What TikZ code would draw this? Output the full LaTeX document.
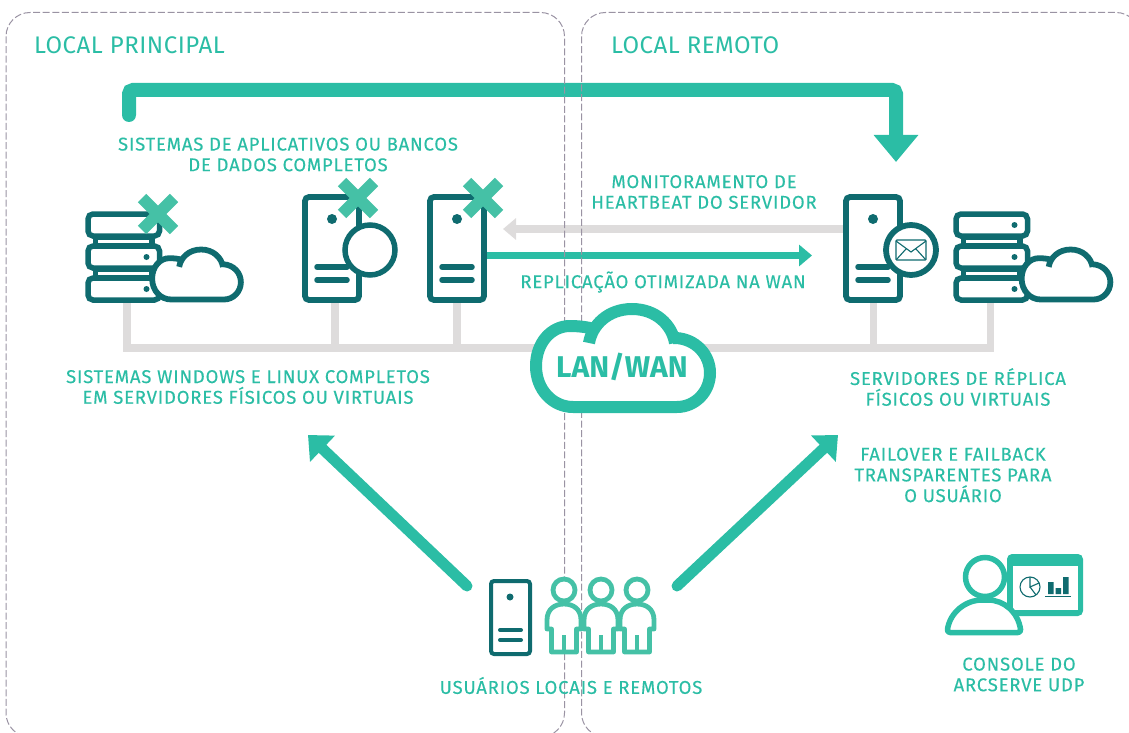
\documentclass[tikz,border=0pt]{standalone}
\usepackage{fontspec}
\setmainfont{Fira Sans}
\newfontfamily\lblfont[LetterSpace=4.3,FakeBold=0.25]{Fira Sans}
\newfontfamily\headfont[LetterSpace=2.2]{Fira Sans}
\usetikzlibrary{arrows.meta}
\definecolor{teal1}{HTML}{2BBDA5}
\definecolor{teal2}{HTML}{45C1A6}
\definecolor{dark}{HTML}{0F6B6F}
\definecolor{lgray}{HTML}{DEDCDC}
\definecolor{dashc}{HTML}{9A93A3}
\tikzset{
  lbl/.style={inner sep=0pt,align=center,text=teal1,font=\lblfont\fontsize{18.5}{20.7}\selectfont},
  head/.style={inner sep=0pt,anchor=base west,text=teal1,font=\headfont\fontsize{24}{26}\selectfont},
  box/.style={inner sep=0pt,outer sep=0pt,minimum width=#1},
  icon/.style={draw=dark,line width=5.5pt,line cap=round,line join=round},
  bus/.style={draw=lgray,line width=7.5pt},
  zone/.style={draw=dashc,line width=1pt,dash pattern=on 7pt off 2.6pt,rounded corners=24pt},
  bigarrow/.style={draw=teal1,line width=11pt,line cap=round,-{Triangle[width=35pt,length=20pt]}},
  toparrow/.style={draw=teal1,line width=14pt,line cap=round,rounded corners=4pt,-{Triangle[width=43pt,length=27pt]}},
  xmark/.style={draw=teal2,line width=12pt}
}
\newcommand{\cloudicon}[5]{% x, y, scale, colour, line width
  \begin{scope}[shift={(#1,#2)},scale=#3]
    \fill[white] (-50,49)--(54,49) .. controls (72,49) and (87,34) .. (87,15) .. controls (87,-4) and (72,-19) .. (53,-20)
      -- (52,-15) .. controls (49,-33) and (33,-49) .. (9,-49) .. controls (-15,-49) and (-31,-33) .. (-34,-15)
      -- (-29,-29) .. controls (-36,-31) and (-45,-32) .. (-53,-32) .. controls (-72,-32) and (-87,-15) .. (-87,8) .. controls (-87,32) and (-70,49) .. (-50,49) -- cycle;
    \draw[draw=#4,line width=#5] (-29,-29) .. controls (-36,-31) and (-45,-32) .. (-53,-32) .. controls (-72,-32) and (-87,-15) .. (-87,8) .. controls (-87,32) and (-70,49) .. (-50,49)
      --(54,49) .. controls (72,49) and (87,34) .. (87,15) .. controls (87,-4) and (72,-19) .. (53,-20) -- (50,-20);
    \draw[draw=#4,line width=#5] (52,-15) .. controls (49,-33) and (33,-49) .. (9,-49) .. controls (-15,-49) and (-31,-33) .. (-34,-15);
  \end{scope}}
\newcommand{\rackicon}[1]{% #1 = outer left x
  \begin{scope}[shift={(#1,0)}]
    \fill[dark] (8,236) rectangle (70,247);
    \fill[dark] (8,268) rectangle (70,279);
    \fill[white] (13,240) rectangle (64,243);
    \fill[white] (13,272) rectangle (64,275);
    \draw[draw=dark,line width=5.5pt,rounded corners=5pt] (3,214) rectangle (74.5,236);
    \draw[draw=dark,line width=5.5pt,rounded corners=5pt] (3,246) rectangle (74.5,268);
    \draw[draw=dark,line width=5.5pt,rounded corners=5pt] (3,278) rectangle (74.5,300);
    \fill[dark] (61.5,225) circle (3pt) (61.5,257) circle (3pt) (61.5,289) circle (3pt);
  \end{scope}}
\newcommand{\towericon}[1]{% #1 = outer left x
  \begin{scope}[shift={(#1,0)}]
    \draw[draw=dark,line width=5.8pt,rounded corners=4pt,fill=white] (3,197) rectangle (57,300);
    \fill[dark] (30,219) circle (5pt);
    \draw[icon] (15,267) -- (45,267) (15,280) -- (45,280);
  \end{scope}}
\newcommand{\xicon}[2]{\draw[xmark] (#1-16,#2-16) -- (#1+16,#2+16) (#1-16,#2+16) -- (#1+16,#2-16);}
\newcommand{\personicon}[1]{%
  \begin{scope}[shift={(#1,0)},draw=teal2,line width=4.8pt,line join=round]
    \draw[fill=white] (-12.5,652) -- (-12.5,629) -- (-17,629) -- (-17,620) .. controls (-17,609) and (-9,604) .. (0,604)
      .. controls (9,604) and (17,609) .. (17,620) -- (17,629) -- (12.5,629) -- (12.5,652) -- cycle;
    \draw (0,635) -- (0,652);
    \draw[fill=white] (0,590) circle (11pt);
  \end{scope}}
\begin{document}
\begin{tikzpicture}[x=1pt,y=-1pt]
\useasboundingbox (0,0) rectangle (1129,733);
% anchors for connectors
\node[box=77pt,minimum height=92pt] (rackA) at (127,257) {};
\node[box=60pt,minimum height=109pt] (towerA) at (335,248.5) {};
\node[box=60pt,minimum height=109pt] (towerB) at (457,248.5) {};
\node[box=60pt,minimum height=109pt] (towerC) at (873.5,248.5) {};
\node[box=77pt,minimum height=92pt] (rackB) at (990.5,257) {};
\coordinate (topstart) at (129,115);
\coordinate (topend) at (896,162);
\coordinate (hub) at (622,348);
\coordinate (grayend) at (503,229);
\coordinate (tealstart) at (485,255.5);
\coordinate (tealend) at (812,255.5);
\coordinate (leftstart) at (467,586);
\coordinate (lefttip) at (308,435);
\coordinate (rightstart) at (677,586);
\coordinate (righttip) at (838,435);
% LAN bus
\draw[bus] (rackA.south) |- (hub) -| (rackB.south);
\draw[bus] (towerA.south) -- (towerA.south |- hub);
\draw[bus] (towerB.south) -- (towerB.south |- hub);
\draw[bus] (towerC.south) -- (towerC.south |- hub);
% top arrow
\draw[toparrow] (topstart) -- (topstart |- 0,90) -- (topend |- 0,90) -- (topend);
% arrows
\draw[draw=lgray,line width=8pt,-{Triangle[width=21pt,length=13pt]}] (towerC.west |- grayend) -- (grayend);
\draw[draw=teal1,line width=7.5pt,-{Triangle[width=21pt,length=13pt]}] (tealstart) -- (tealend);
% zones
\begin{scope}
\clip (0,0) rectangle (1129,733);
\draw[zone] (6,12.5) rectangle (564.5,737);
\draw[zone] (581.5,12.5) rectangle (1140,737);
\end{scope}
% cloud
\cloudicon{623}{358}{1}{teal1}{12pt}
\node[inner sep=0pt,text=teal1,font=\fontsize{30}{32}\selectfont\bfseries] (lanwan) at (622,367) {LAN/WAN};
% texts
\node[head] (localp) at (34,54) {LOCAL PRINCIPAL};
\node[head] (localr) at (611,54) {LOCAL REMOTO};
\node[lbl] (apps) at (288,154.5) {SISTEMAS DE APLICATIVOS OU BANCOS\\DE DADOS COMPLETOS};
\node[lbl] (mon) at (704,192) {MONITORAMENTO DE\\HEARTBEAT DO SERVIDOR};
\node[lbl] (rep) at (663,282) {REPLICAÇÃO OTIMIZADA NA WAN};
\node[lbl] (sys) at (248,387) {SISTEMAS WINDOWS E LINUX COMPLETOS\\EM SERVIDORES FÍSICOS OU VIRTUAIS};
\node[lbl] (srv) at (958,387) {SERVIDORES DE RÉPLICA\\FÍSICOS OU VIRTUAIS};
\node[lbl] (fail) at (953,475) {FAILOVER E FAILBACK\\TRANSPARENTES PARA\\O USUÁRIO};
\node[lbl] (usr) at (571,685.5) {USUÁRIOS LOCAIS E REMOTOS};
\node[lbl] (con) at (1019,674.5) {CONSOLE DO\\ARCSERVE UDP};
\draw[bigarrow] (leftstart) -- (lefttip);
\draw[bigarrow] (rightstart) -- (righttip);
% left rack
\rackicon{85}
\cloudicon{196.5}{274.5}{.51}{dark}{5.8pt}
\xicon{158}{214}
% towers
\towericon{302}
\draw[draw=dark,line width=5.5pt,fill=white] (370,250) circle (25pt);
\xicon{358}{198}
\towericon{427}
\xicon{483}{198}
% right tower
\towericon{843}
\draw[draw=dark,line width=5.8pt,fill=white] (911,250) circle (25pt);
\draw[draw=dark,line width=1.1pt,rounded corners=1pt] (896,240) rectangle (926,260);
\draw[draw=dark,line width=1.1pt] (896,241) -- (911,252) -- (926,241) (896,260) -- (906,249) (926,260) -- (916,249);
% right rack
\rackicon{953}
\cloudicon{1066}{274.5}{.51}{dark}{5.8pt}
% users
\begin{scope}[shift={(489,0)}]
\draw[draw=dark,line width=4pt,rounded corners=3pt] (2,581) rectangle (41,654);
\fill[dark] (21,597) circle (3.5pt);
\draw[draw=dark,line width=4pt,line cap=round] (11,630) -- (32,630) (11,640) -- (32,640);
\end{scope}
\personicon{564}
\personicon{601}
\personicon{637}
% console
\fill[teal1,rounded corners=5pt] (1007,554) rectangle (1083,616);
\fill[white] (1013,566) rectangle (1078,610);
\draw[draw=dark,line width=1.1pt] (1030,587) circle (10pt);
\draw[draw=dark,line width=1.1pt] (1030,577) -- (1030,587) -- (1039,583) (1030,587) -- (1036,595);
\fill[dark] (1048,582) rectangle (1053.5,594) (1055.5,588) rectangle (1061,594) (1063,577) rectangle (1068.5,594);
\draw[draw=dark,line width=1pt] (1045,596) -- (1071,596);
\draw[draw=teal1,line width=5.5pt,line join=round,fill=white,rounded corners=3pt] (947,632.5) .. controls (950,612) and (966,600) .. (985,600) .. controls (1004,600) and (1018,612) .. (1021,632.5) -- cycle;
\draw[draw=teal1,line width=5.5pt,fill=white] (985,577) circle (19.5pt);
\end{tikzpicture}
\end{document}
